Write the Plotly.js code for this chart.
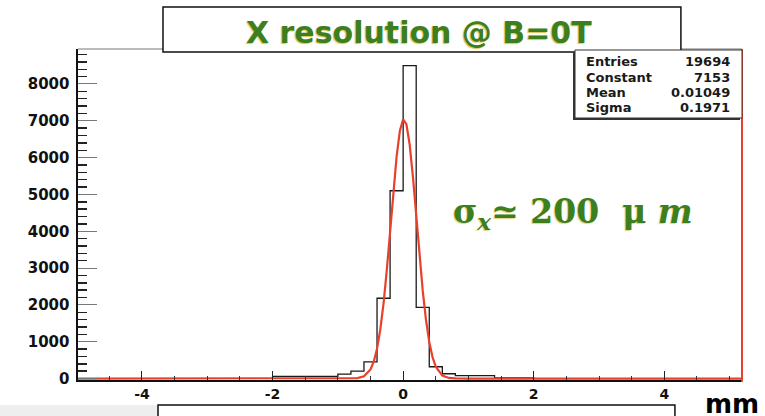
<!DOCTYPE html>
<html>
<head>
<meta charset="utf-8">
<script src="https://cdn.plot.ly/plotly-3.0.1.min.js"></script>
<style>html,body{margin:0;padding:0;background:#fff;}#chart{width:765px;height:416px;}</style>
</head>
<body>
<div id="chart"></div>
<script>
// Histogram bins (lower edges, width 0.2 mm) and counts
const binLow = [-2.0,-1.8,-1.6,-1.4,-1.2,-1.0,-0.8,-0.6,-0.4,-0.2,0.0,0.2,0.4,0.6,0.8,1.0,1.2,1.4,1.6,1.8];
const binCounts = [60,60,60,60,60,120,200,450,2180,5100,8500,1930,320,130,80,80,80,20,20,20];
const binWidth = 0.2;

// Red fit curve
const fitX = [-5.0,-1.0,-0.8,-0.7,-0.6,-0.5,-0.45,-0.4,-0.35,-0.3,-0.25,-0.2,-0.15,-0.1,-0.05,0.0,0.05,0.1,0.15,0.2,0.25,0.3,0.35,0.4,0.45,0.5,0.6,0.7,0.8,1.0,5.2];
const fitY = [0,0,2,11,59,247,462,809,1328,2044,2950,3995,5070,6033,6731,7041,6906,6351,5476,4428,3357,2386,1590,993,582,320,80,15,2,0,0];

// Axis tick labels
const xTickVals = [-4,-2,0,2,4];
const xTickText = ["-4","-2","0","2","4"];

// Stats box
const statLabels = ["Entries","Constant","Mean","Sigma"];
const statValues = ["19694","7153","0.01049","0.1971"];

const titleText = "X resolution @ B=0T";
const sigmaText = "σ<sub><i>x</i></sub>≃\u00a0200\u00a0\u00a0μ\u00a0<i>m</i>";
const xUnit = "mm";

// build step outline
const hx = [], hy = [];
hx.push(binLow[0]); hy.push(0);
for (let i = 0; i < binLow.length; i++) { hx.push(binLow[i]); hy.push(binCounts[i]); }
const lastHi = binLow[binLow.length-1] + binWidth;
hx.push(lastHi); hy.push(binCounts[binCounts.length-1]);
hx.push(lastHi); hy.push(0);

const green = '#3b7f1e';
const traces = [
  {x: hx, y: hy, type: 'scatter', mode: 'lines', line: {shape: 'hv', color: '#1a1a1a', width: 1.3}, hoverinfo: 'skip'},
  {x: fitX, y: fitY, type: 'scatter', mode: 'lines', line: {shape: 'linear', color: '#e8402a', width: 2.2}, hoverinfo: 'skip'}
];

const tickFont = {family: 'DejaVu Sans', size: 14, color: '#111', weight: 'bold'};
const statFont = {family: 'DejaVu Sans', size: 13, color: '#1a1a1a', weight: 'bold'};
const statY = [0.9637, 0.9154, 0.8671, 0.8218];

const annotations = [
  {text: titleText, xref: 'paper', yref: 'paper', x: 0.5136, y: 1.051, showarrow: false, xanchor: 'center', yanchor: 'middle',
   font: {family: 'DejaVu Sans', size: 30, color: green, weight: 'bold', shadow: '-1px 1px 1px rgba(215,180,40,0.8)'}},
  {text: sigmaText, xref: 'paper', yref: 'paper', x: 0.7455, y: 0.5045, showarrow: false, xanchor: 'center', yanchor: 'middle',
   font: {family: 'DejaVu Serif', size: 33, color: green, weight: 'bold', shadow: '-1px 1px 1px rgba(215,180,40,0.6)'}},
  {text: xUnit, xref: 'paper', yref: 'paper', x: 0.985, y: -0.072, showarrow: false, xanchor: 'center', yanchor: 'middle',
   font: {family: 'DejaVu Sans', size: 26, color: '#000', weight: 'bold'}}
];
statLabels.forEach((s, i) => annotations.push({text: s, xref: 'paper', yref: 'paper', x: 0.762, y: statY[i], showarrow: false, xanchor: 'left', yanchor: 'middle', font: statFont}));
statValues.forEach((s, i) => annotations.push({text: s, xref: 'paper', yref: 'paper', x: 0.985, y: statY[i], showarrow: false, xanchor: 'right', yanchor: 'middle', font: statFont}));

const shapes = [
  {type: 'rect', xref: 'paper', yref: 'paper', x0: -0.2, x1: 0.1205, y0: -0.0755, y1: -0.2, fillcolor: '#eeeeee', line: {width: 0}, layer: 'below'},
  {type: 'line', xref: 'paper', yref: 'paper', x0: 0, x1: 1, y0: 1, y1: 1, line: {color: '#777', width: 1}},
  {type: 'line', xref: 'paper', yref: 'paper', x0: 1, x1: 1, y0: -0.005, y1: 1, line: {color: '#e8402a', width: 2}},
  {type: 'rect', xref: 'paper', yref: 'paper', x0: 0.128, x1: 0.908, y0: 0.991, y1: 1.127, fillcolor: '#fff', line: {color: '#111', width: 1.5}},
  {type: 'rect', xref: 'paper', yref: 'paper', x0: 0.7455, x1: 0.997, y0: 0.7855, y1: 0.991, fillcolor: '#333', line: {width: 0}},
  {type: 'rect', xref: 'paper', yref: 'paper', x0: 0.7485, x1: 1.0, y0: 0.7915, y1: 0.997, fillcolor: '#fff', line: {color: '#333', width: 1}},
  {type: 'rect', xref: 'paper', yref: 'paper', x0: 0.1205, x1: 0.899, y0: -0.0755, y1: -0.3, fillcolor: '#fff', line: {color: '#111', width: 1.5}}
];

const layout = {
  width: 765, height: 416,
  margin: {l: 78, r: 23, t: 49, b: 36, pad: 0},
  paper_bgcolor: '#fff', plot_bgcolor: '#fff',
  showlegend: false,
  xaxis: {range: [-4.98, 5.19], tickmode: 'array', tickvals: xTickVals, ticktext: xTickText,
          ticks: 'inside', ticklen: 9, tickwidth: 1, tickcolor: '#222',
          showline: true, linecolor: '#111', linewidth: 1.5, showgrid: false, zeroline: false, tickfont: tickFont,
          ticklabelstandoff: 1,
          minor: {dtick: 0.5, tick0: 0, ticks: 'inside', ticklen: 4, tickwidth: 1, tickcolor: '#333', showgrid: false}},
  yaxis: {range: [-40, 8950], tick0: 0, dtick: 1000, ticks: 'inside', ticklen: 19, tickwidth: 1, tickcolor: '#777',
          showline: true, linecolor: '#111', linewidth: 2.5, showgrid: false, zeroline: false,
          tickfont: Object.assign({}, tickFont, {size: 15}), ticklabelstandoff: 3,
          minor: {dtick: 200, tick0: 0, ticks: 'inside', ticklen: 9, tickwidth: 1.5, tickcolor: '#222', showgrid: false}},
  annotations: annotations,
  shapes: shapes
};

Plotly.newPlot('chart', traces, layout, {displayModeBar: false, staticPlot: true});
</script>
</body>
</html>
